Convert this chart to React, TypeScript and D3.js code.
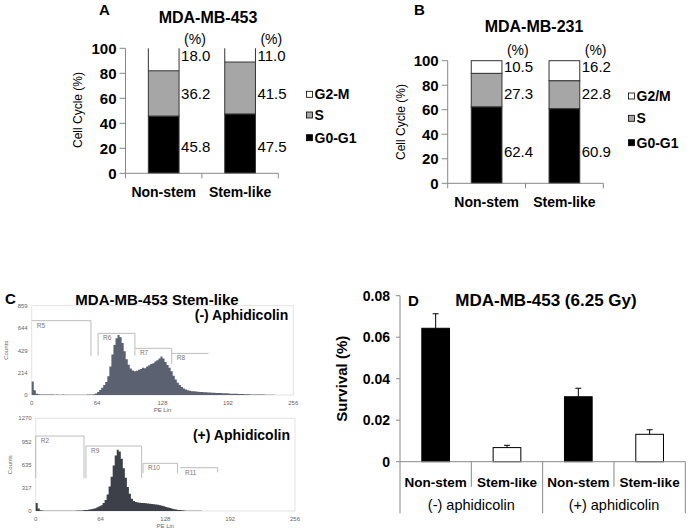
import React from "react";
import * as d3 from "d3";

const FONT = "'Liberation Sans', Arial, sans-serif";

// Panel A / B data
const cycleCats = ["Non-stem", "Stem-like"];
const phases = ["G0-G1", "S", "G2-M"];
const a453G0 = [45.8, 47.5];
const a453S = [36.2, 41.5];
const a453G2 = [18.0, 11.0];
const b231G0 = [62.4, 60.9];
const b231S = [27.3, 22.8];
const b231G2 = [10.5, 16.2];
const cycleTicks = [0, 20, 40, 60, 80, 100];
const legendA = ["G2-M", "S", "G0-G1"];
const legendB = ["G2/M", "S", "G0-G1"];
const labelLevelsA = [21.5, 63.5, 94.5];
const labelLevelsB = [26, 73.5, 95];

// Panel C data: counts in 2-unit PE Lin bins (0..254)
const minusCounts = [
  130, 45, 12, 7, 6, 5, 6, 4, 5, 4, 4, 3, 4, 3, 3, 4,
  3, 3, 2, 3, 3, 2, 3, 3, 2, 3, 3, 4, 4, 5, 7, 14,
  28, 48, 70, 95, 125, 180, 275, 390, 480, 545, 578, 555, 500, 420, 345, 290,
  255, 236, 228, 234, 242, 250, 262, 258, 275, 285, 298, 305, 322, 335, 350, 370,
  352, 318, 288, 262, 228, 185, 148, 118, 95, 76, 62, 52, 46, 41, 37, 35,
  33, 31, 29, 28, 27, 26, 24, 24, 22, 22, 20, 19, 19, 17, 16, 16,
  14, 13, 13, 12, 11, 10, 10, 9, 8, 8, 7, 6, 6, 5, 5, 4,
  4, 4, 3, 3, 3, 2, 2, 1, 0, 0, 0, 0, 0, 0, 0, 0,
];
const plusCounts = [
  110, 35, 10, 6, 5, 4, 4, 4, 3, 4, 3, 3, 3, 4, 3, 3,
  4, 4, 5, 5, 6, 7, 8, 10, 12, 15, 19, 25, 31, 38, 52, 66,
  80, 110, 150, 225, 335, 470, 625, 760, 840, 815, 715, 585, 455, 330, 235, 168,
  138, 122, 116, 113, 111, 109, 106, 104, 100, 96, 92, 88, 84, 79, 72, 64,
  56, 48, 40, 32, 25, 19, 15, 12, 9, 7, 5, 4, 3, 3, 2, 2,
  2, 2, 1, 1, 1, 1, 1, 1, 1, 1, 0, 0, 0, 0, 0, 0,
  0, 0, 0, 0, 0, 0, 0, 0, 0, 0, 0, 0, 0, 0, 0, 0,
  0, 0, 0, 0, 0, 0, 0, 0, 0, 0, 0, 0, 0, 0, 0, 0,
];
const peTicks = [0, 64, 128, 192, 256];
const minusCountTicks = [0, 214, 429, 644, 859];
const plusCountTicks = [0, 317, 635, 952, 1270];
const minusGates = [
  { name: "R5", x0: 0, x1: 58, top: 715, bottom: 375, left: false, right: true },
  { name: "R6", x0: 65, x1: 101, top: 593, bottom: 380, left: true, right: true },
  { name: "R7", x0: 101, x1: 137, top: 449, bottom: 300, left: false, right: true },
  { name: "R8", x0: 137, x1: 173, top: 400, bottom: 400, left: false, right: false },
];
const plusGates = [
  { name: "R2", x0: 0, x1: 47.7, top: 1027, bottom: 450, left: true, right: true },
  { name: "R9", x0: 49.6, x1: 104.6, top: 890, bottom: 450, left: true, right: true },
  { name: "R10", x0: 106, x1: 140, top: 653, bottom: 520, left: true, right: true },
  { name: "R11", x0: 142.5, x1: 179.7, top: 593, bottom: 530, left: false, right: true },
];

// Panel D data
const survCats = ["Non-stem", "Stem-like", "Non-stem", "Stem-like"];
const survGroups = ["(-) aphidicolin", "(+) aphidicolin"];
const survMeans = [0.0643, 0.0068, 0.0313, 0.0132];
const survErrs = [0.007, 0.0011, 0.0041, 0.0022];
const survTicks = [0, 0.02, 0.04, 0.06, 0.08];

const phaseColors = ["#000000", "#a6a6a6", "#ffffff"];

function CyclePanel(props: any) {
  const { g0, s, g2, xRange, yRange, labelLevels, legend, legendX, legendYs, openTop, pctY } = props;
  const y = d3.scaleLinear().domain([0, 100]).range(yRange);
  const x = d3.scaleBand().domain(cycleCats).range(xRange).padding(0);
  const bw = 30.7;
  const axisX = xRange[0];
  const stacks = cycleCats.map((c, i) => {
    const vals = [g0[i], s[i], g2[i]];
    let acc = 0;
    return vals.map((v) => {
      const seg = { lo: acc, hi: acc + v, v };
      acc += v;
      return seg;
    });
  });
  return (
    <g fontFamily={FONT}>
      {cycleCats.map((c, i) => {
        const cx = (x(c) as number) + x.bandwidth() / 2;
        const x0 = cx - bw / 2;
        return (
          <g key={c}>
            {stacks[i].map((seg, j) => {
              const top = j === 2 ? 100 : seg.hi;
              const yt = y(Math.min(top, 100));
              const yb = y(seg.lo);
              if (j === 2 && openTop) {
                return (
                  <g key={j}>
                    <line x1={x0} x2={x0} y1={yt} y2={yb} stroke="#333" strokeWidth={1} />
                    <line x1={x0 + bw} x2={x0 + bw} y1={yt} y2={yb} stroke="#333" strokeWidth={1} />
                  </g>
                );
              }
              return (
                <rect key={j} x={x0} y={yt} width={bw} height={yb - yt} fill={phaseColors[j]} stroke="#333" strokeWidth={1} />
              );
            })}
            {stacks[i].map((seg, j) => (
              <text key={"l" + j} x={x0 + bw + 2} y={y(labelLevels[j])} dy="0.36em" fontSize={15} fill="#000">
                {seg.v.toFixed(1)}
              </text>
            ))}
            <text x={x0 + bw + 5} y={y(pctY)} dy="0.36em" fontSize={14}>(%)</text>
          </g>
        );
      })}
      <line x1={axisX} x2={axisX} y1={yRange[1]} y2={yRange[0]} stroke="#888" />
      {cycleTicks.map((t) => (
        <g key={t}>
          <line x1={axisX - 6} x2={axisX} y1={y(t)} y2={y(t)} stroke="#888" />
          <text x={axisX - 9} y={y(t)} dy="0.36em" textAnchor="end" fontSize={15} fontWeight="bold">{t}</text>
        </g>
      ))}
      <line x1={xRange[0]} x2={xRange[1]} y1={yRange[0]} y2={yRange[0]} stroke="#888" />
      {[0, 1, 2].map((k) => {
        const xx = xRange[0] + k * x.step();
        return <line key={k} x1={xx} x2={xx} y1={yRange[0]} y2={yRange[0] + 5} stroke="#888" />;
      })}
      {cycleCats.map((c) => (
        <text key={c} x={(x(c) as number) + x.bandwidth() / 2} y={yRange[0] + 19} dy="0.36em" textAnchor="middle" fontSize={14} fontWeight="bold">{c}</text>
      ))}
      {legend.map((l: string, k: number) => (
        <g key={l}>
          <rect x={legendX} y={legendYs[k] - 3} width={6} height={6} fill={phaseColors[2 - k]} stroke="#000" strokeWidth={0.8} />
          <text x={legendX + 8} y={legendYs[k]} dy="0.36em" fontSize={14} fontWeight="bold">{l}</text>
        </g>
      ))}
    </g>
  );
}

function Histogram(props: any) {
  const { counts, xRange, yRange, yMax, yTicks, gates, fill, label, labelY } = props;
  const x = d3.scaleLinear().domain([0, 256]).range(xRange);
  const y = d3.scaleLinear().domain([0, yMax]).range(yRange);
  const pts = counts.map((c: number, i: number) => [i * 2, c]);
  pts.push([256, 0]);
  const area = d3
    .area<number[]>()
    .x((d) => x(d[0]))
    .y0(y(0))
    .y1((d) => y(d[1]))
    .curve(d3.curveStepAfter);
  return (
    <g fontFamily={FONT}>
      <rect x={xRange[0]} y={yRange[1]} width={xRange[1] - xRange[0]} height={yRange[0] - yRange[1]} fill="none" stroke="#e3e3e3" strokeWidth={1} />
      <path d={area(pts) || ""} fill={fill} />
      {gates.map((g: any) => (
        <g key={g.name} stroke="#b5b5b5" strokeWidth={0.9} fill="none">
          <line x1={x(g.x0)} x2={x(g.x1)} y1={y(g.top)} y2={y(g.top)} />
          {g.left && <line x1={x(g.x0)} x2={x(g.x0)} y1={y(g.top)} y2={y(g.bottom)} />}
          {g.right && <line x1={x(g.x1)} x2={x(g.x1)} y1={y(g.top)} y2={y(g.bottom)} />}
        </g>
      ))}
      {gates.map((g: any) => (
        <text key={"t" + g.name} x={x(g.x0) + 5} y={y(g.top) + 7} fontSize={6.5} fill="#777">{g.name}</text>
      ))}
      {yTicks.map((t: number) => (
        <text key={t} x={xRange[0] - 4} y={y(t)} dy="0.36em" textAnchor="end" fontSize={6} fill="#666">{t}</text>
      ))}
      {peTicks.map((t) => (
        <text key={t} x={x(t)} y={yRange[0] + 8} dy="0.36em" textAnchor="middle" fontSize={6} fill="#666">{t}</text>
      ))}
      <text x={(xRange[0] + xRange[1]) / 2} y={yRange[0] + 15} dy="0.36em" textAnchor="middle" fontSize={6} fill="#666">PE Lin</text>
      <text transform={`translate(${xRange[0] - 24},${(yRange[0] + yRange[1]) / 2}) rotate(-90)`} textAnchor="middle" fontSize={6} fill="#666">Counts</text>
      <text x={xRange[1] - 5} y={labelY} dy="0.36em" textAnchor="end" fontSize={14} fontWeight="bold">{label}</text>
    </g>
  );
}

function SurvivalPanel() {
  const xRange: [number, number] = [400, 685.3];
  const yRange: [number, number] = [461.7, 295.7];
  const idx = survCats.map((_, i) => String(i));
  const x = d3.scaleBand().domain(idx).range(xRange).padding(0);
  const y = d3.scaleLinear().domain([0, 0.08]).range(yRange);
  const bw = 27.7;
  const bottom = 513.3;
  return (
    <g fontFamily={FONT}>
      {survMeans.map((m, i) => {
        const cx = (x(String(i)) as number) + x.bandwidth() / 2;
        const top = y(m + survErrs[i]);
        return (
          <g key={i}>
            <line x1={cx} x2={cx} y1={y(m)} y2={top} stroke="#000" strokeWidth={1} />
            <line x1={cx - 3} x2={cx + 3} y1={top} y2={top} stroke="#000" strokeWidth={1} />
            <rect x={cx - bw / 2} y={y(m)} width={bw} height={y(0) - y(m)} fill={i % 2 === 0 ? "#000" : "#fff"} stroke="#000" strokeWidth={1} />
            <text x={cx} y={482} dy="0.36em" textAnchor="middle" fontSize={13.5} fontWeight="bold">{survCats[i]}</text>
          </g>
        );
      })}
      <line x1={xRange[0]} x2={xRange[0]} y1={yRange[1]} y2={bottom} stroke="#888" />
      {survTicks.map((t) => (
        <g key={t}>
          <line x1={xRange[0] - 4} x2={xRange[0]} y1={y(t)} y2={y(t)} stroke="#888" />
          <text x={xRange[0] - 10} y={y(t)} dy="0.36em" textAnchor="end" fontSize={14} fontWeight="bold">{t}</text>
        </g>
      ))}
      <line x1={xRange[0]} x2={xRange[1]} y1={yRange[0]} y2={yRange[0]} stroke="#888" />
      {[1, 2, 3, 4].map((k) => {
        const xx = xRange[0] + k * x.step();
        const long = k % 2 === 0;
        return <line key={k} x1={xx} x2={xx} y1={yRange[0]} y2={long ? bottom : 486.7} stroke="#888" />;
      })}
      {survGroups.map((g, k) => (
        <text key={g} x={xRange[0] + x.step() * (2 * k + 1)} y={505} dy="0.36em" textAnchor="middle" fontSize={14.5}>{g}</text>
      ))}
      <text transform={`translate(347,${(yRange[0] + yRange[1]) / 2}) rotate(-90)`} textAnchor="middle" fontSize={15} fontWeight="bold">Survival (%)</text>
      <text x={546} y={306} textAnchor="middle" fontSize={17} fontWeight="bold">MDA-MB-453 (6.25 Gy)</text>
    </g>
  );
}

export default function App() {
  return (
    <svg width={689} height={532} style={{ position: "absolute", left: 0, top: 0, background: "#fff" }} fontFamily={FONT}>
      <rect x={0} y={0} width={689} height={532} fill="#fff" />
      <text x={99} y={15} fontSize={15} fontWeight="bold">A</text>
      <text x={208} y={23} textAnchor="middle" fontSize={16} fontWeight="bold">MDA-MB-453</text>
      <text transform="translate(82,110) rotate(-90)" textAnchor="middle" fontSize={12}>Cell Cycle (%)</text>
      <CyclePanel g0={a453G0} s={a453S} g2={a453G2} xRange={[125.5, 278.3]} yRange={[173.3, 48.3]}
        labelLevels={labelLevelsA} legend={legendA} legendX={306.5} legendYs={[94.3, 115, 137.7]} openTop={true} pctY={107.5} />
      <text x={414} y={15} fontSize={15} fontWeight="bold">B</text>
      <text x={534} y={32} textAnchor="middle" fontSize={16} fontWeight="bold">MDA-MB-231</text>
      <text transform="translate(405,122) rotate(-90)" textAnchor="middle" fontSize={12}>Cell Cycle (%)</text>
      <CyclePanel g0={b231G0} s={b231S} g2={b231G2} xRange={[447.7, 603.3]} yRange={[183.3, 60.7]}
        labelLevels={labelLevelsB} legend={legendB} legendX={628.5} legendYs={[96, 118.3, 142.7]} openTop={false} pctY={109} />
      <text x={5} y={304} fontSize={15} fontWeight="bold">C</text>
      <text x={157} y={305} textAnchor="middle" fontSize={15} fontWeight="bold">MDA-MB-453 Stem-like</text>
      <Histogram counts={minusCounts} xRange={[31.7, 293.3]} yRange={[395, 305.7]} yMax={859} yTicks={minusCountTicks}
        gates={minusGates} fill="#5b6170" label="(-) Aphidicolin" labelY={315} />
      <Histogram counts={plusCounts} xRange={[35.7, 295]} yRange={[511, 418.3]} yMax={1270} yTicks={plusCountTicks}
        gates={plusGates} fill="#3d4048" label="(+) Aphidicolin" labelY={435} />
      <text x={408} y={306} fontSize={15} fontWeight="bold">D</text>
      <SurvivalPanel />
    </svg>
  );
}
